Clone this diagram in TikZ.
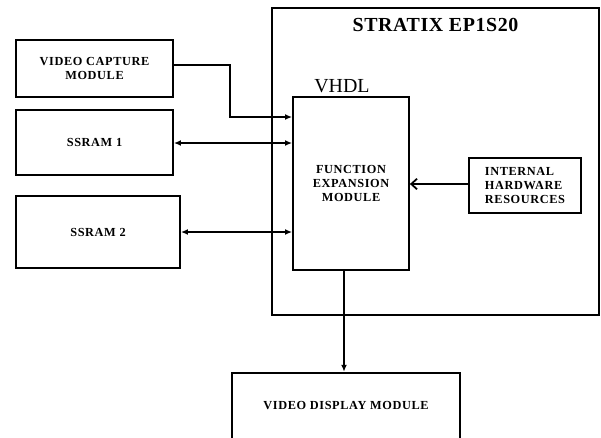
\documentclass[tikz,border=0pt]{standalone}
\usepackage{fontspec}
\setmainfont{Liberation Serif}
\usetikzlibrary{positioning, arrows.meta}

\begin{document}
\begin{tikzpicture}[
        x=0.03cm, y=-0.03cm,
        font=\fontsize{10.5}{12}\selectfont\bfseries\addfontfeature{LetterSpace=5},
        block/.style={
          rectangle, draw=black, line width=1.5pt,
          fill=white, align=center, inner sep=2pt
        },
        chip/.style={
          rectangle, draw=black, line width=1.5pt, inner sep=0pt
        },
        arr/.style={-{Latex[length=6pt, width=5pt]}, line width=1.5pt},
        arrBoth/.style={{Latex[length=6pt, width=5pt]}-{Latex[length=6pt, width=5pt]}, line width=1.5pt},
        arrOpen/.style={-{Straight Barb[length=5pt, width=9pt]}, line width=1.5pt}
      ]
      \useasboundingbox (0,0) rectangle (601,437);

      % FPGA
      \node[chip, minimum width=9.81cm, minimum height=9.21cm] (fpga) at (435.5,161.5) {};
      \node[font=\fontsize{17}{19}\selectfont\bfseries\addfontfeature{LetterSpace=3}, below=0.2cm of fpga.north] (fpgaName) {STRATIX EP1S20};

      % Bloque VHDL
      \node[block, minimum width=3.48cm, minimum height=5.19cm] (fem) at (351,183.5) {FUNCTION\\EXPANSION\\MODULE};
      \node[font=\fontsize{17}{19}\selectfont, anchor=south] (vhdl) at (342,97) {VHDL};

      % Recursos internos
      \node[block, minimum width=3.36cm, minimum height=1.65cm, align=left] (ihr) at (525,185.5) {INTERNAL\\HARDWARE\\RESOURCES};

      % Externos
      \node[block, minimum width=4.71cm, minimum height=1.71cm] (cap) at (94.5,68.5) {VIDEO CAPTURE\\MODULE};
      \node[block, minimum width=4.71cm, minimum height=1.95cm] (ram1) at (94.5,142.5) {SSRAM 1};
      \node[block, minimum width=4.92cm, minimum height=2.16cm] (ram2) at (98,232) {SSRAM 2};
      \node[block, minimum width=6.84cm, minimum height=2.0cm] (disp) at (346,406) {VIDEO DISPLAY MODULE};

      % Conexiones
      \draw[arr] (cap.east |- 0,65) -| (230,117) -- (fem.west |- 0,117);
      \draw[arrBoth] (ram1.east |- 0,143) -- (fem.west |- 0,143);
      \draw[arrBoth] (ram2.east |- 0,232) -- (fem.west |- 0,232);
      \draw[arrOpen] (ihr.west |- 0,184) -- (fem.east |- 0,184);
      \draw[arr] (fem.south -| 344,0) -- (disp.north -| 344,0);

    \end{tikzpicture}
\end{document}
